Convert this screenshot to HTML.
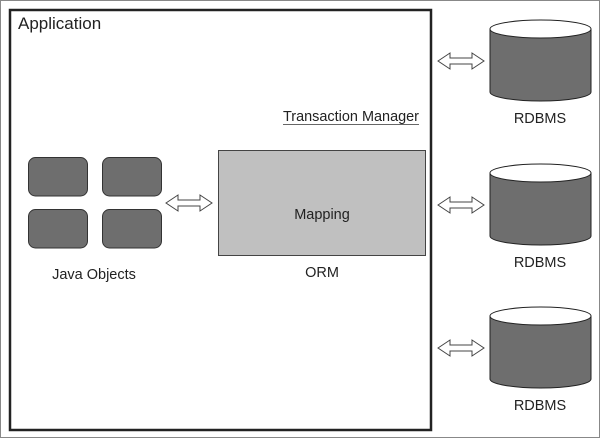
<!DOCTYPE html>
<html><head><style>
html,body{margin:0;padding:0;background:#fff}
svg{display:block}
text{font-family:"Liberation Sans",sans-serif;fill:#222}
</style></head><body>
<svg width="600" height="438" viewBox="0 0 600 438" xmlns="http://www.w3.org/2000/svg">
<rect x="0.5" y="0.5" width="599" height="437" fill="#fff" stroke="#888" stroke-width="1"/>
<rect x="10" y="10" width="421" height="420" fill="#fff" stroke="#222" stroke-width="2.5"/>
<text x="18" y="29" font-size="17">Application</text>
<text x="283" y="121" font-size="15" textLength="136" lengthAdjust="spacingAndGlyphs">Transaction Manager</text>
<line x1="283" y1="124.5" x2="419" y2="124.5" stroke="#666" stroke-width="1"/>
<g fill="#6e6e6e" stroke="#333" stroke-width="1">
<rect x="28.5" y="157.5" width="59" height="38.5" rx="7"/>
<rect x="102.5" y="157.5" width="59" height="38.5" rx="7"/>
<rect x="28.5" y="209.5" width="59" height="38.5" rx="7"/>
<rect x="102.5" y="209.5" width="59" height="38.5" rx="7"/>
</g>
<text x="94" y="279" font-size="14.5" text-anchor="middle">Java Objects</text>
<rect x="218.5" y="150.5" width="207" height="105" fill="#c0c0c0" stroke="#444" stroke-width="1"/>
<text x="322" y="219" font-size="14.5" text-anchor="middle">Mapping</text>
<text x="322" y="277" font-size="14.5" text-anchor="middle">ORM</text>
<defs>
<path id="arr" d="M0,0 L12,-8 L12,-3 L34,-3 L34,-8 L46,0 L34,8 L34,3 L12,3 L12,8 Z" fill="#fff" stroke="#444" stroke-width="1"/>
</defs>
<use href="#arr" x="166" y="203"/>
<use href="#arr" x="438" y="61"/>
<use href="#arr" x="438" y="205"/>
<use href="#arr" x="438" y="348"/>
<g stroke="#222" stroke-width="1">
<path d="M490,29 L490,92 A50.5,9 0 0 0 591,92 L591,29 Z" fill="#6e6e6e"/>
<ellipse cx="540.5" cy="29" rx="50.5" ry="9" fill="#fff"/>
<path d="M490,173 L490,236 A50.5,9 0 0 0 591,236 L591,173 Z" fill="#6e6e6e"/>
<ellipse cx="540.5" cy="173" rx="50.5" ry="9" fill="#fff"/>
<path d="M490,316 L490,379 A50.5,9 0 0 0 591,379 L591,316 Z" fill="#6e6e6e"/>
<ellipse cx="540.5" cy="316" rx="50.5" ry="9" fill="#fff"/>
</g>
<text x="540" y="123" font-size="14.5" text-anchor="middle">RDBMS</text>
<text x="540" y="267" font-size="14.5" text-anchor="middle">RDBMS</text>
<text x="540" y="410" font-size="14.5" text-anchor="middle">RDBMS</text>
</svg>
</body></html>
